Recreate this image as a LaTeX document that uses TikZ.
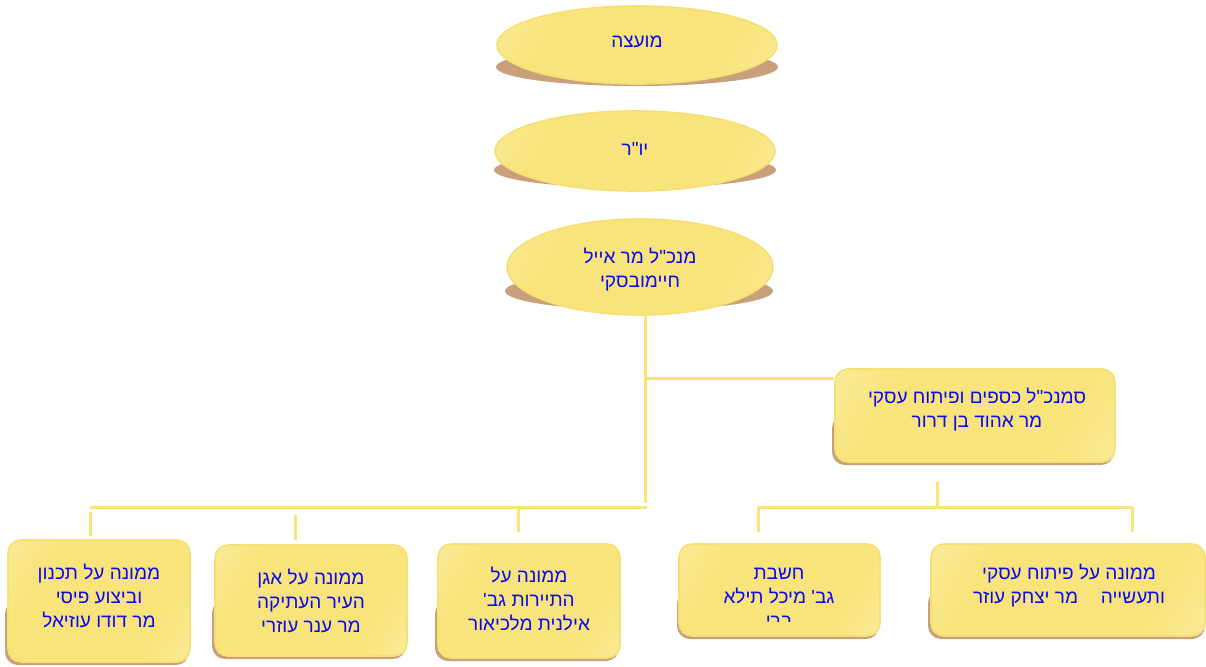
\documentclass[tikz,border=0pt]{standalone}
\usepackage{fontspec}
\setmainfont{Liberation Sans}
\newfontfamily\heb[Script=Hebrew]{Liberation Sans}
\TeXXeTstate=1
\usetikzlibrary{shapes.geometric}
\definecolor{ylight}{HTML}{FBF1B8}
\definecolor{ymid}{HTML}{F8E47A}
\definecolor{yedge}{HTML}{F5E071}
\definecolor{shad}{HTML}{C8A07C}
\definecolor{conncol}{HTML}{F7E47A}
\definecolor{tblue}{HTML}{0808F2}
\pgfdeclarehorizontalshading{yel}{100bp}{color(0bp)=(ylight); color(30bp)=(ymid); color(70bp)=(ymid); color(100bp)=(ylight)}
\begin{document}
\begin{tikzpicture}[x=1pt,y=-1pt,
  txt/.style={font=\heb\fontsize{19}{24}\selectfont, text=tblue, align=center, inner sep=0pt},
  ell/.style={ellipse, draw=yedge, line width=1.6pt, shading=yel, shading angle=-30, inner sep=0pt, txt},
  ellshadow/.style={ellipse, fill=shad, inner sep=0pt},
  obox/.style={rectangle, rounded corners=13pt, draw=yedge, line width=1.6pt, shading=yel, shading angle=-30, inner sep=0pt},
  bshadow/.style={fill=shad, rounded corners=13pt},
  connline/.style={draw=conncol, line width=3pt}]
\useasboundingbox[fill=white] (0,0) rectangle (1206,666);

% ellipses
\node[ellshadow, minimum width=282, minimum height=38] (s1) at (637,67) {};
\node[ell, minimum width=280, minimum height=78] (n1) at (637,45) {};
\node[txt] (t1) at (637,42) {\beginR מועצה\endR};
\node[ellshadow, minimum width=282, minimum height=36] (s2) at (635,170) {};
\node[ell, minimum width=280, minimum height=80] (n2) at (635,151) {};
\node[txt] (t2) at (635,149) {\beginR יו"ר\endR};
\node[ellshadow, minimum width=268, minimum height=38] (s3) at (639,291) {};
\node[ell, minimum width=266, minimum height=96] (n3) at (640,267) {};
\node[txt] (t3) at (640,270) {\beginR מנכ"ל מר אייל\endR\\\beginR חיימובסקי\endR};

% box shadows
\path[bshadow] (832,415) rectangle (1114,465);
\path[bshadow] (5,601) rectangle (189,665);
\path[bshadow] (212,600) rectangle (406,659);
\path[bshadow] (435,601) rectangle (619,661);
\path[bshadow] (677,590) rectangle (879,639);
\path[bshadow] (928,590) rectangle (1205,639);

% boxes
\node[obox, minimum width=280, minimum height=93] (r) at (975,415.5) {};
\node[obox, minimum width=182, minimum height=122] (a) at (99,601) {};
\node[obox, minimum width=192, minimum height=111] (b) at (311,600.5) {};
\node[obox, minimum width=182, minimum height=114] (c) at (529,601) {};
\node[obox, minimum width=201, minimum height=92] (d) at (779.5,590) {};
\node[obox, minimum width=274, minimum height=92] (e) at (1068,590) {};

% texts
\node[txt] (tr) at (977,410) {\beginR סמנכ"ל כספים ופיתוח עסקי\endR\\\beginR מר אהוד בן דרור\endR};
\node[txt] (ta) at (99,596) {\beginR ממונה על תכנון\endR\\\beginR וביצוע פיסי\endR\\\beginR מר דודו עוזיאל\endR};
\node[txt] (tb) at (311,601) {\beginR ממונה על אגן\endR\\\beginR העיר העתיקה\endR\\\beginR מר ענר עוזרי\endR};
\node[txt] (tc) at (529,599) {\beginR ממונה על\endR\\\beginR התיירות גב'\endR\\\beginR אילנית מלכיאור\endR};
\begin{scope}
\clip (680,543) rectangle (880,621);
\node[txt] (td) at (779,598) {\beginR חשבת\endR\\\beginR גב' מיכל תילא\endR\\\beginR ברי\endR};
\end{scope}
\node[txt] (te) at (1069,586) {\beginR ממונה על פיתוח עסקי\endR\\\beginR ותעשייה\hspace{1.2em}מר יצחק עוזר\endR};

% connectors
\coordinate (j1) at (645,503);
\coordinate (j2) at (645,378);
\draw[connline] (n3.south -| j1) -- (j1);
\draw[connline] (j2) -- (j2 -| r.west);
\coordinate (lb1) at (90,507);
\coordinate (lb2) at (647,507);
\draw[connline] (lb1) -- (lb2);
\draw[connline] ([yshift=-5pt]lb1) -- ([yshift=3pt]a.north -| lb1);
\coordinate (db) at (295,515);
\draw[connline] (db) -- ([yshift=4pt]b.north -| db);
\coordinate (dc) at (518,507);
\draw[connline] (dc) -- ([yshift=11pt]c.north -| dc);
\coordinate (rt) at (937,482);
\coordinate (rb1) at (758,507);
\coordinate (rb2) at (1132,507);
\draw[connline] (rt) -- (rt |- rb1);
\draw[connline] (rb1) -- (rb2);
\draw[connline] (rb1) -- ([yshift=11pt]d.north -| rb1);
\draw[connline] (rb2) -- ([yshift=11pt]e.north -| rb2);
\end{tikzpicture}
\end{document}
